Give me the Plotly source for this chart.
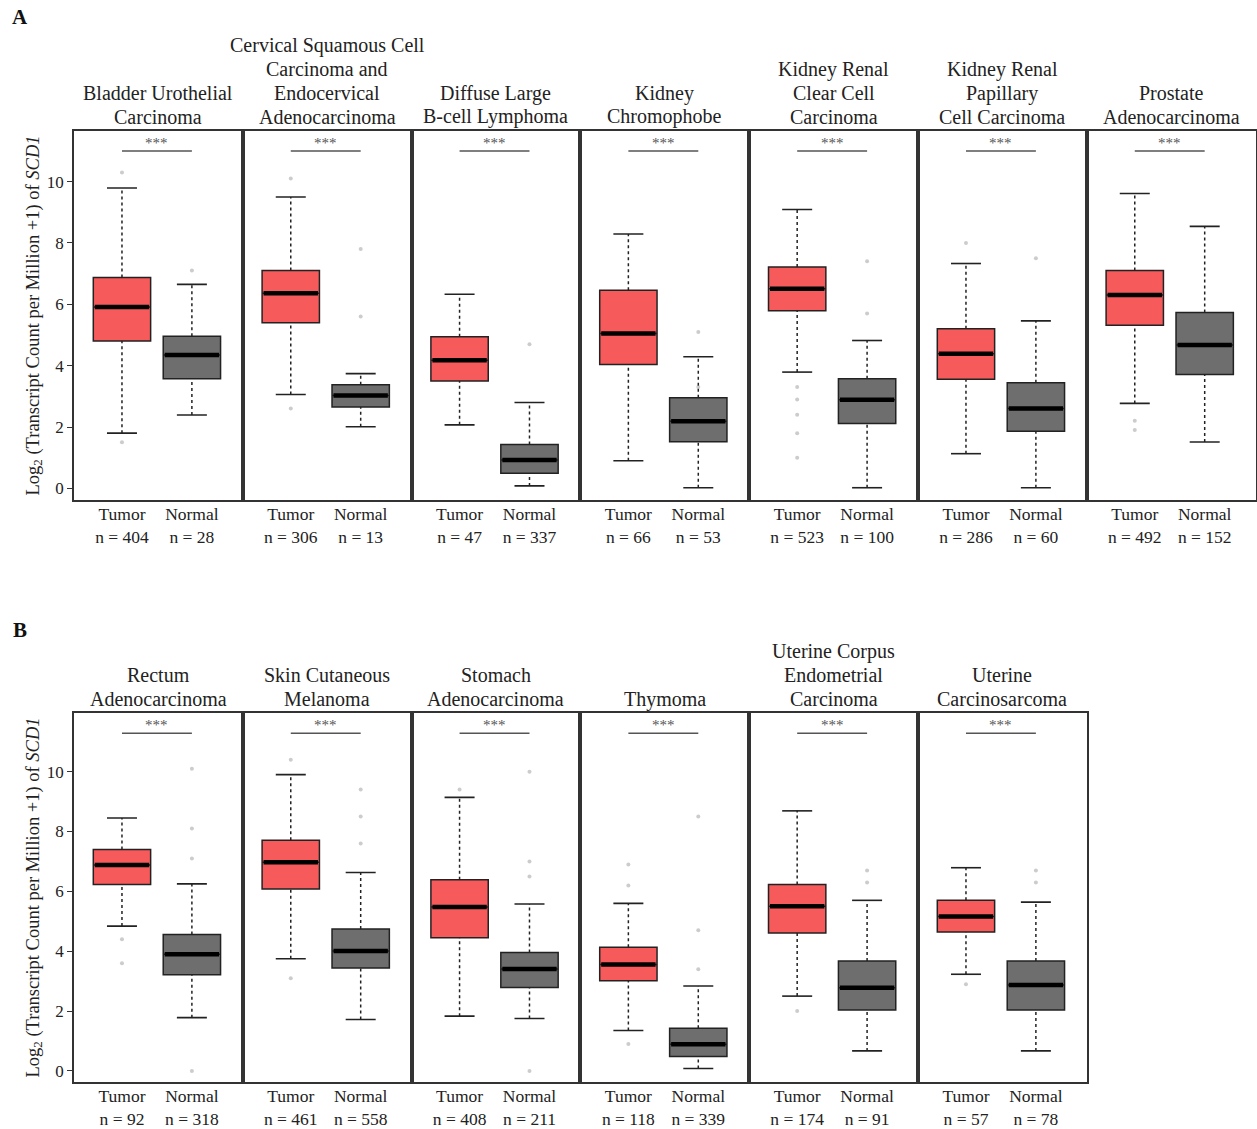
import plotly.graph_objects as go

# ---------------- data ----------------
titles_A = [
    ["Bladder Urothelial", "Carcinoma"],
    ["Cervical Squamous Cell", "Carcinoma and", "Endocervical", "Adenocarcinoma"],
    ["Diffuse Large", "B-cell Lymphoma"],
    ["Kidney", "Chromophobe"],
    ["Kidney Renal", "Clear Cell", "Carcinoma"],
    ["Kidney Renal", "Papillary", "Cell Carcinoma"],
    ["Prostate", "Adenocarcinoma"],
]
titles_B = [
    ["Rectum", "Adenocarcinoma"],
    ["Skin Cutaneous", "Melanoma"],
    ["Stomach", "Adenocarcinoma"],
    ["Thymoma"],
    ["Uterine Corpus", "Endometrial", "Carcinoma"],
    ["Uterine", "Carcinosarcoma"],
]
titles = titles_A + titles_B

n_tumor = [404, 306, 47, 66, 523, 286, 492, 92, 461, 408, 118, 174, 57]
n_normal = [28, 13, 337, 53, 100, 60, 152, 318, 558, 211, 339, 91, 78]

# tumor box statistics (lower whisker, Q1, median, Q3, upper whisker)
t_low = [1.80, 3.06, 2.07, 0.90, 3.79, 1.13, 2.77, 4.84, 3.75, 1.83, 1.35, 2.50, 3.23]
t_q1 = [4.80, 5.40, 3.50, 4.04, 5.79, 3.56, 5.32, 6.23, 6.08, 4.45, 3.01, 4.61, 4.64]
t_med = [5.91, 6.36, 4.18, 5.05, 6.51, 4.39, 6.30, 6.88, 6.97, 5.48, 3.56, 5.50, 5.16]
t_q3 = [6.87, 7.10, 4.94, 6.46, 7.22, 5.20, 7.10, 7.40, 7.71, 6.39, 4.13, 6.23, 5.70]
t_up = [9.79, 9.50, 6.33, 8.29, 9.09, 7.33, 9.61, 8.45, 9.90, 9.14, 5.60, 8.69, 6.79]

# normal box statistics
n_low = [2.39, 2.01, 0.08, 0.02, 0.02, 0.02, 1.51, 1.78, 1.72, 1.75, 0.08, 0.67, 0.67]
n_q1 = [3.57, 2.65, 0.49, 1.52, 2.11, 1.86, 3.71, 3.21, 3.44, 2.79, 0.48, 2.04, 2.04]
n_med = [4.35, 3.03, 0.92, 2.19, 2.89, 2.60, 4.67, 3.90, 4.01, 3.41, 0.89, 2.78, 2.87]
n_q3 = [4.96, 3.38, 1.43, 2.95, 3.57, 3.44, 5.73, 4.56, 4.74, 3.96, 1.43, 3.67, 3.67]
n_up = [6.65, 3.74, 2.80, 4.29, 4.82, 5.46, 8.54, 6.25, 6.63, 5.58, 2.84, 5.70, 5.64]

# visible outlying points
t_out = [[10.3, 1.5], [10.1, 2.6], [], [], [3.3, 2.9, 2.4, 1.8, 1.0], [8.0], [2.2, 1.9],
         [4.4, 3.6], [10.4, 3.1], [9.4], [6.9, 6.2, 0.9], [2.0], [2.9]]
n_out = [[7.1], [7.8, 5.6], [4.7], [5.1, 3.3], [7.4, 5.7], [7.5], [],
         [10.1, 8.1, 7.1, 0.0], [9.4, 8.5, 7.6], [10.0, 7.0, 6.5, 0.0], [8.5, 4.7, 3.4], [6.7, 6.3], [6.7, 6.3]]

y_ticks = [0, 2, 4, 6, 8, 10]
sig_label = "***"

# ---------------- layout constants ----------------
W, H = 1257, 1129
FONT = "Liberation Serif, Times New Roman, serif"
PANEL_LEFT, PANEL_W = 74, 168.8
ROWS = [
    dict(n=7, top=131, bottom=500, yr=[-0.38, 11.65], sig=11.0, title_y=116.7, letter="A", letter_y=17),
    dict(n=6, top=712.7, bottom=1082.3, yr=[-0.38, 11.97], sig=11.28, title_y=699, letter="B", letter_y=630),
]
XR = [-0.686, 1.728]
BOXW = 0.82
PX_PER_CAT = PANEL_W / (XR[1] - XR[0])
SYM_SCALE = 1.4  # plotly's line-ew marker spans ~1.4 x size
RED = "#F65A5B"
GREY = "#6E6E6E"
EDGE = "#222222"

fig = go.Figure()
layout = {}
annotations = []

idx = 0
for r, row in enumerate(ROWS):
    y0 = 1 - row["bottom"] / H
    y1 = 1 - row["top"] / H
    for c in range(row["n"]):
        k = idx + 1
        xs = "" if k == 1 else str(k)
        xa, ya = "x" + xs, "y" + xs
        xl = PANEL_LEFT + PANEL_W * c
        layout["xaxis" + xs] = dict(
            domain=[xl / W, (xl + PANEL_W) / W], range=XR, anchor=ya,
            tickvals=[0, 1],
            ticktext=[f"Tumor<br>n = {n_tumor[idx]}", f"Normal<br>n = {n_normal[idx]}"],
            tickfont=dict(family=FONT, size=17.5, color="#222"),
            ticklabelstandoff=-3,
            showline=True, mirror=True, linecolor="#333", linewidth=1.6,
            showgrid=False, zeroline=False, ticks="", fixedrange=True,
        )
        first = c == 0
        layout["yaxis" + xs] = dict(
            domain=[y0, y1], range=row["yr"], anchor=xa,
            tickvals=y_ticks, showticklabels=first,
            ticks="outside" if first else "", ticklen=5, tickwidth=1.2, tickcolor="#333",
            tickfont=dict(family=FONT, size=17, color="#222"),
            showline=True, mirror=True, linecolor="#333", linewidth=1.6,
            showgrid=False, zeroline=False, fixedrange=True,
        )

        groups = [
            (0, t_low[idx], t_q1[idx], t_med[idx], t_q3[idx], t_up[idx], RED, t_out[idx]),
            (1, n_low[idx], n_q1[idx], n_med[idx], n_q3[idx], n_up[idx], GREY, n_out[idx]),
        ]
        for (pos, lo, q1, med, q3, up, col, outs) in groups:
            # whiskers (dotted)
            fig.add_trace(go.Scatter(
                x=[pos, pos, None, pos, pos], y=[lo, q1, None, q3, up],
                mode="lines", line=dict(color=EDGE, width=1.5, dash="dot"),
                xaxis=xa, yaxis=ya, showlegend=False, hoverinfo="skip"))
            # whisker caps
            fig.add_trace(go.Scatter(
                x=[pos, pos], y=[lo, up], mode="markers",
                marker=dict(symbol="line-ew", size=30 / SYM_SCALE, line=dict(color=EDGE, width=1.6)),
                xaxis=xa, yaxis=ya, showlegend=False, hoverinfo="skip"))
            # box
            fig.add_trace(go.Box(
                x=[pos], q1=[q1], median=[med], q3=[q3], lowerfence=[q1], upperfence=[q3],
                width=BOXW, fillcolor=col, line=dict(color=EDGE, width=1.5),
                whiskerwidth=0, boxpoints=False,
                xaxis=xa, yaxis=ya, showlegend=False, hoverinfo="skip"))
            # thick median
            fig.add_trace(go.Scatter(
                x=[pos], y=[med], mode="markers",
                marker=dict(symbol="line-ew", size=(BOXW * PX_PER_CAT - 3) / SYM_SCALE,
                            line=dict(color="black", width=4.5)),
                xaxis=xa, yaxis=ya, showlegend=False, hoverinfo="skip"))
            # outlying points
            if outs:
                fig.add_trace(go.Scatter(
                    x=[pos] * len(outs), y=outs, mode="markers",
                    marker=dict(symbol="circle", size=4, color="rgba(110,110,110,0.35)"),
                    xaxis=xa, yaxis=ya, showlegend=False, hoverinfo="skip"))

        # significance bar
        fig.add_trace(go.Scatter(
            x=[0, 1], y=[row["sig"], row["sig"]], mode="lines",
            line=dict(color="#555", width=1.5),
            xaxis=xa, yaxis=ya, showlegend=False, hoverinfo="skip"))
        annotations.append(dict(
            x=0.5, y=row["sig"], xref=xa, yref=ya, text=sig_label, showarrow=False,
            yanchor="bottom", yshift=-2, font=dict(family=FONT, size=15, color="#555")))

        # panel title
        lines = titles[idx]
        for j, ln in enumerate(lines):
            ypx = row["title_y"] - 23.7 * (len(lines) - 1 - j)
            annotations.append(dict(
                x=(xl + PANEL_W / 2) / W, y=1 - ypx / H, xref="paper", yref="paper",
                text=ln, showarrow=False, xanchor="center", yanchor="middle",
                font=dict(family=FONT, size=20, color="#222")))
        idx += 1

    # y-axis title
    annotations.append(dict(
        x=34 / W, y=1 - (row["top"] + row["bottom"]) / 2 / H, xref="paper", yref="paper",
        text="Log<sub>2</sub> (Transcript Count per Million +1) of <i>SCD1</i>",
        textangle=-90, showarrow=False, xanchor="center", yanchor="middle",
        font=dict(family=FONT, size=18.5, color="#222")))
    # panel letter
    annotations.append(dict(
        x=20 / W, y=1 - row["letter_y"] / H, xref="paper", yref="paper",
        text=f"<b>{row['letter']}</b>", showarrow=False, xanchor="center", yanchor="middle",
        font=dict(family=FONT, size=21, color="#111")))

fig.update_layout(
    width=W, height=H, margin=dict(l=0, r=0, t=0, b=0),
    paper_bgcolor="white", plot_bgcolor="white",
    annotations=annotations, showlegend=False, **layout)

fig.write_html("out.html", config={"displayModeBar": False},
               post_script="document.body.style.margin='0';")
